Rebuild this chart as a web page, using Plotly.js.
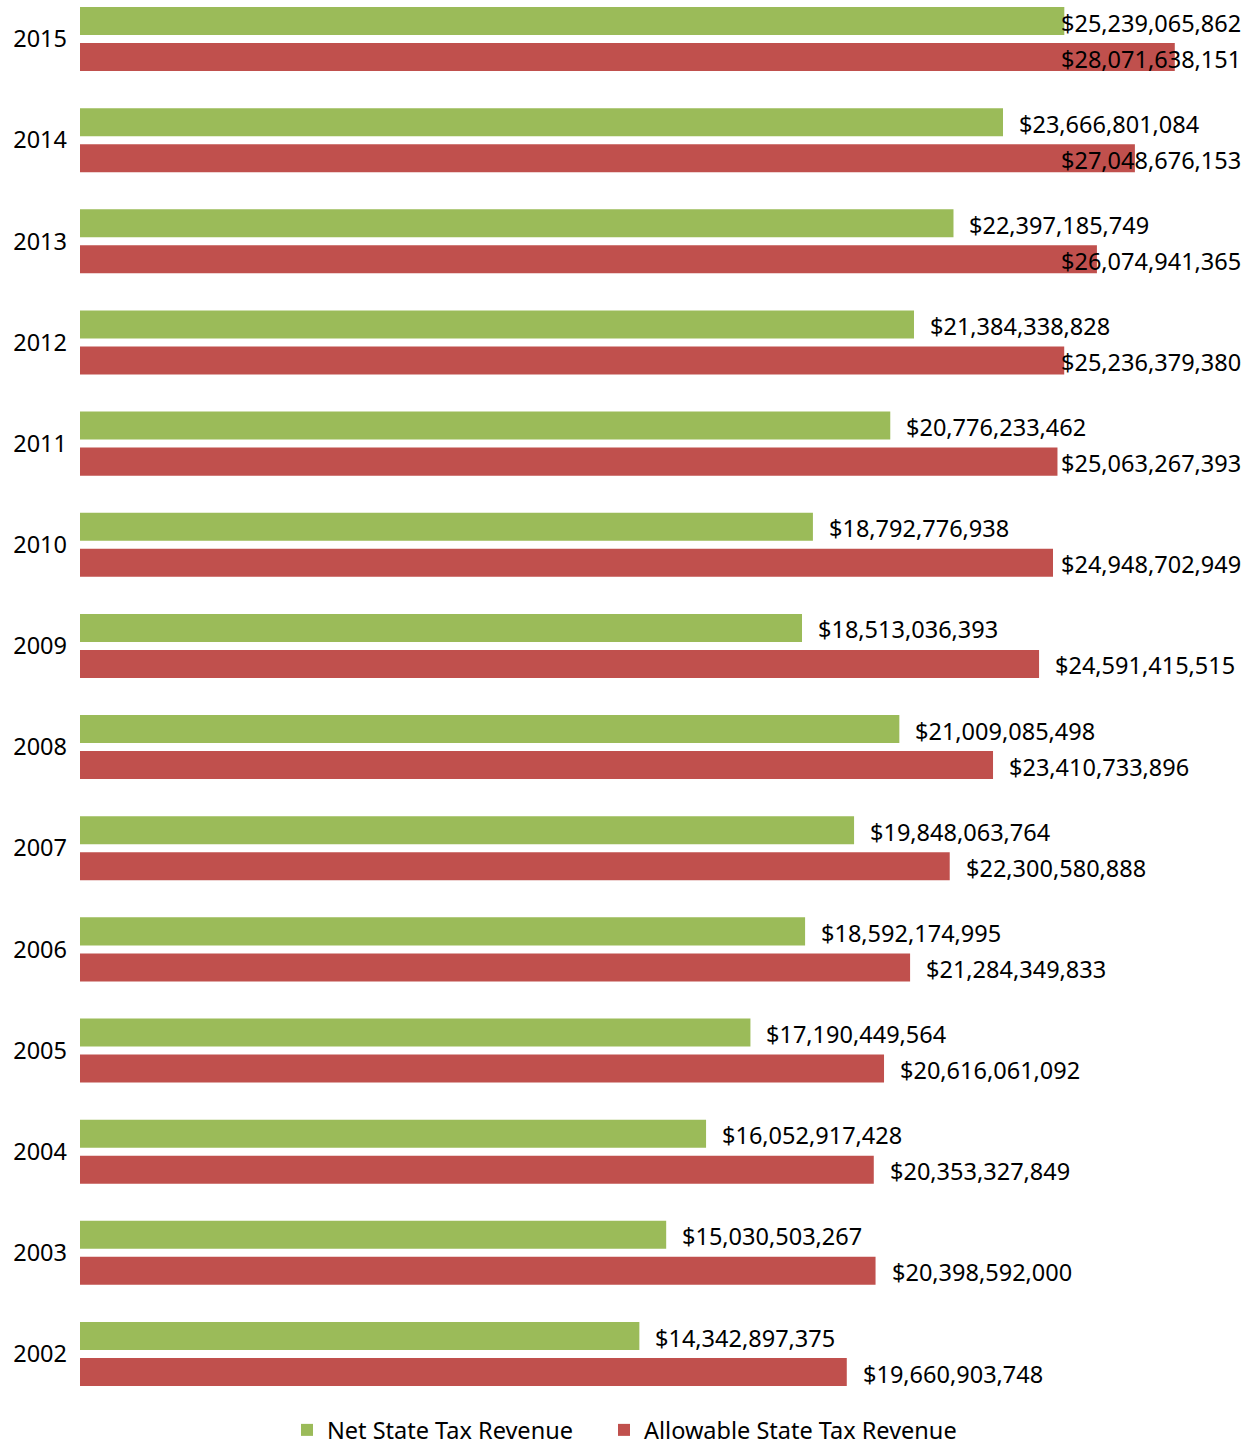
<!DOCTYPE html>
<html>
<head>
<meta charset="utf-8">
<script src="https://cdn.plot.ly/plotly-3.0.1.min.js"></script>
<style>html,body{margin:0;padding:0;background:#fff;}#chart{width:1251px;height:1445px;}</style>
</head>
<body>
<div id="chart"></div>
<script>
const years = ["2015","2014","2013","2012","2011","2010","2009","2008","2007","2006","2005","2004","2003","2002"];
const netRevenue = [25239065862,23666801084,22397185749,21384338828,20776233462,18792776938,18513036393,21009085498,19848063764,18592174995,17190449564,16052917428,15030503267,14342897375];
const allowableRevenue = [28071638151,27048676153,26074941365,25236379380,25063267393,24948702949,24591415515,23410733896,22300580888,21284349833,20616061092,20353327849,20398592000,19660903748];
const seriesNames = ["Net State Tax Revenue","Allowable State Tax Revenue"];

const FONT = "Noto Sans";
const FS = 23.5;
const W = 1251, H = 1445;
const mL = 80, mR = 10, mT = 0, mB = 45;
const plotW = W - mL - mR;
const xMax = plotW / 39.0e-9; // 39 px per billion
const labelGap = 16;

const fmt = v => "$" + v.toLocaleString("en-US");
const ctx = document.createElement("canvas").getContext("2d");
ctx.font = FS + "px '" + FONT + "'";

function makeAnn(vals, shift) {
  return vals.map((v, i) => {
    const txt = fmt(v);
    const tw = ctx.measureText(txt).width;
    const endPx = v / xMax * plotW;
    const fits = endPx + labelGap + tw <= plotW;
    const a = {
      text: txt, y: i, yref: "y", yshift: shift, showarrow: false,
      font: {family: FONT, size: FS, color: "#000"}, yanchor: "middle"
    };
    if (fits) { a.x = v; a.xref = "x"; a.xanchor = "left"; a.xshift = labelGap - 2; }
    else { a.x = 1; a.xref = "paper"; a.xanchor = "right"; a.xshift = 2; }
    return a;
  });
}

const traces = [
  {type: "bar", orientation: "h", name: seriesNames[0], y: years, x: netRevenue,
   marker: {color: "#9BBB59"}, hoverinfo: "skip", legend: "legend"},
  {type: "bar", orientation: "h", name: seriesNames[1], y: years, x: allowableRevenue,
   marker: {color: "#C0504D"}, hoverinfo: "skip", legend: "legend2"}
];

const legendBase = {orientation: "h", xref: "container", xanchor: "left", y: -0.0215, yanchor: "middle",
  font: {family: FONT, size: FS, color: "#000"}, itemwidth: 30, bgcolor: "rgba(0,0,0,0)"};

const layout = {
  width: W, height: H,
  margin: {l: mL, r: mR, t: mT, b: mB, pad: 0, autoexpand: false},
  paper_bgcolor: "#fff", plot_bgcolor: "#fff",
  barmode: "group", bargap: 0.288, bargroupgap: 0.222,
  font: {family: FONT, size: FS, color: "#000"},
  xaxis: {range: [0, xMax], visible: false, showgrid: false, zeroline: false, fixedrange: true},
  yaxis: {type: "category", categoryorder: "array", categoryarray: years,
          range: [13.4548, -0.3856], showgrid: false, zeroline: false, showline: false,
          ticks: "", ticklabelstandoff: 12, tickfont: {family: FONT, size: FS, color: "#000"}},
  showlegend: true,
  legend: Object.assign({}, legendBase, {x: 287 / W}),
  legend2: Object.assign({}, legendBase, {x: 604 / W}),
  annotations: makeAnn(netRevenue, 16.5).concat(makeAnn(allowableRevenue, -19.5))
};

Plotly.newPlot("chart", traces, layout, {displayModeBar: false, staticPlot: true});
</script>
</body>
</html>
